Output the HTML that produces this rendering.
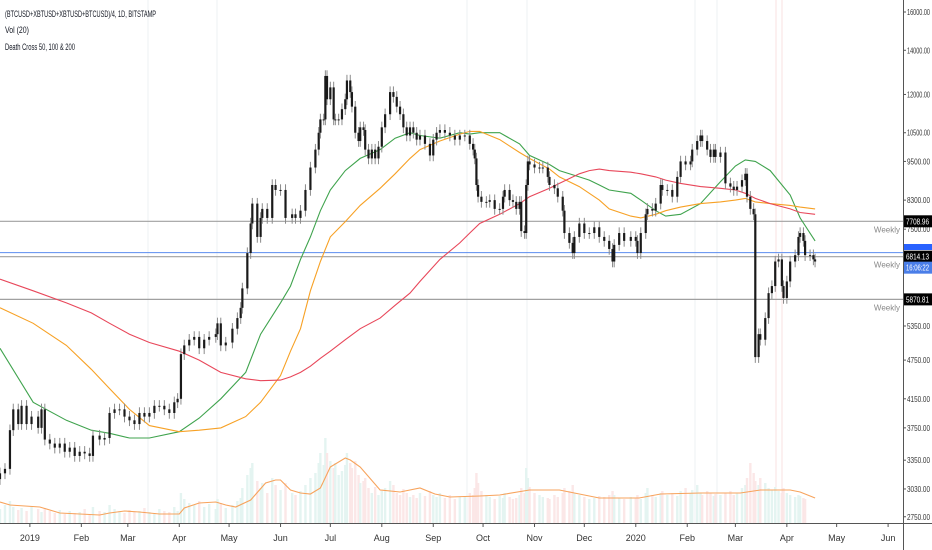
<!DOCTYPE html>
<html><head><meta charset="utf-8">
<style>
html,body{margin:0;padding:0;background:#fff;}
svg{display:block;font-family:"Liberation Sans",sans-serif;}
</style></head>
<body>
<svg id="chart" width="932" height="550">
  <g id="grid"></g>
  <g id="vol"></g>
  <g id="hlines"></g>
  <g id="mas"></g>
  <g id="candles"></g>
  <g id="axes"></g>
  <text x="5" y="17" font-size="9" fill="#131722" textLength="151" lengthAdjust="spacingAndGlyphs">(BTCUSD+XBTUSD+XBTUSD+BTCUSD)/4, 1D, BITSTAMP</text>
  <text x="5" y="33" font-size="9" fill="#131722" textLength="24" lengthAdjust="spacingAndGlyphs">Vol (20)</text>
  <text x="5" y="50" font-size="9" fill="#131722" textLength="70" lengthAdjust="spacingAndGlyphs">Death Cross 50, 100 &amp; 200</text>
</svg>
<script>
// ---- data (days since 2018-12-14) ----
const candleDays=[0,3,6,8,11,13,16,19,23,25,27,30,33,36,39,42,45,48,51,54,56,60,63,66,69,72,75,78,81,84,87,90,93,96,99,102,105,107,109,111,114,117,120,123,126,130,131,133,136,140,143,145,146,149,151,152,155,157,158,161,164,166,169,172,176,178,181,184,187,190,192,193,195,196,197,199,201,202,204,206,208,209,211,212,214,216,217,219,220,222,224,226,228,230,232,235,237,239,241,243,245,247,249,251,253,256,259,261,263,265,268,271,274,277,280,283,285,286,287,288,290,293,295,298,301,303,304,307,309,311,313,314,316,317,318,319,322,325,327,330,331,334,336,339,340,343,345,346,349,352,355,358,361,364,367,369,370,373,376,380,383,384,386,389,390,393,395,398,399,402,405,408,410,413,416,417,420,422,423,426,428,430,431,434,437,440,442,444,447,449,450,452,454,455,457,458,461,463,465,467,469,471,472,474,476,479,481,482,484,485,488,490,491];
const closes=[3200,3250,3720,4000,3800,4050,3800,3900,3750,4000,3600,3550,3500,3550,3450,3500,3400,3450,3430,3400,3650,3600,3620,3950,4000,4000,3900,3850,3800,3950,3900,3950,4050,4050,4000,3950,4100,4150,4850,5000,5100,5150,4950,5100,5150,5200,5400,5000,5050,5300,5500,5700,6100,6900,7650,8200,7300,7800,8050,7800,8750,8600,8600,7800,7900,7800,8000,8600,9300,9900,10500,11000,11000,12800,11800,12300,11000,11000,11000,11400,11800,12600,12100,11500,10500,10200,10700,10600,9900,9600,9900,9600,10000,10700,11200,12100,11900,11500,11200,10700,10400,10700,10500,10250,10400,10100,9700,10250,10500,10600,10500,10400,10250,10400,10400,10100,9900,9600,8750,8400,8250,8250,8300,8050,8050,8400,8600,8300,8250,8050,8250,7450,7400,8750,9500,9400,9300,9300,9300,9000,8750,8650,8400,8000,7400,7150,6900,7300,7650,7400,7400,7550,7300,7200,7000,6700,7100,7400,7200,7300,7200,6900,7400,7900,8050,8000,8200,8750,8600,8600,8400,9000,9500,9400,9500,9900,10200,10400,10200,9900,9650,9900,9650,9800,8800,8700,8600,8700,8900,9100,8400,8050,7900,4800,5200,5100,5500,6000,6150,6700,6750,6150,5900,6250,6700,6850,7300,7400,7200,6850,6850,6750,6700];
const volumes=[14,18,22,16,13,15,12,17,14,11,15,12,10,13,9,12,10,11,14,9,16,12,11,18,14,12,10,13,11,12,15,11,10,14,12,11,16,12,30,24,20,18,22,16,19,14,24,20,15,18,22,25,35,48,55,60,42,35,40,30,45,38,33,40,30,28,32,38,45,50,60,70,58,85,70,62,55,60,48,52,58,70,60,55,62,48,40,42,45,35,30,36,28,32,35,42,38,30,28,34,30,26,28,25,30,27,32,28,26,30,25,28,24,26,27,30,28,35,50,40,32,28,26,24,27,25,30,26,24,25,28,35,30,55,45,36,30,28,26,25,24,28,26,30,35,32,38,30,28,26,24,25,27,26,28,32,28,25,24,26,25,28,24,30,35,28,26,30,32,28,30,27,32,35,30,33,38,30,28,32,30,27,29,28,30,32,28,30,35,38,45,60,50,42,38,45,40,35,33,36,32,30,35,30,28,26,28,27,25,24];
const volMaDays=[0,6,24,36,48,60,66,75,84,96,108,111,120,130,136,142,151,160,166,169,175,181,187,193,199,208,211,217,229,241,253,262,271,289,301,319,337,361,385,398,422,446,458,476,482,491];
const volMa=[21,18,16,10,9,8,10,12,11,9,9,15,20,21,18,16,23,40,43,43,33,30,29,35,56,65,63,56,33,31,35,29,26,27,28,33,33,25,25,29,30,30,33,33,31,25];
const maDays=[0,20,40,55,66,78,90,108,120,133,148,157,169,175,181,187,193,199,208,217,229,238,247,253,265,277,283,289,301,313,319,331,337,349,355,361,367,380,386,395,401,410,422,434,443,449,455,464,476,482,491];
const ma50=[4950,4100,3850,3720,3680,3620,3620,3700,3880,4150,4550,5200,5800,6150,6750,7300,8000,8600,9200,9600,9900,10300,10500,10400,10300,10500,10450,10500,10500,10100,9700,9400,9200,9000,8900,8750,8600,8500,8300,8000,7850,7900,8200,8850,9350,9550,9500,9200,8450,7800,7200];
const ma100=[5700,5400,5000,4600,4300,4000,3780,3700,3720,3750,3900,4100,4500,4900,5300,6050,6700,7300,7700,8150,8650,9100,9600,9900,10200,10450,10550,10550,10250,9800,9600,9250,9000,8700,8500,8300,8050,7850,7800,7900,8000,8100,8200,8250,8300,8350,8250,8200,8150,8100,8050];
const ma200=[6300,6050,5800,5600,5400,5200,5050,4900,4750,4550,4450,4420,4430,4480,4550,4650,4780,4900,5100,5300,5500,5750,6000,6250,6750,7150,7400,7650,7900,8200,8400,8650,8800,9100,9200,9250,9200,9150,9100,9000,8900,8800,8700,8650,8600,8500,8350,8200,8050,7950,7900];
const priceTicks=[16000,14000,12000,10500,9500,8300,7500,5350,4750,4150,3750,3350,3030,2750];
const monthLabels=["2019","Feb","Mar","Apr","May","Jun","Jul","Aug","Sep","Oct","Nov","Dec","2020","Feb","Mar","Apr","May","Jun"];
const monthDays=[18,49,77,108,138,169,199,230,261,291,322,352,383,414,443,474,504,535];
const levels=[7708.96,6814.13,5870.81];
const levelNames=["weekly-level-7708","weekly-level-6814","weekly-level-5870"];

// ---- scales ----
const PX_PER_DAY=1.66, TOP=12, LOGTOP=Math.log10(16000), PX_PER_DEC=660, VOL_BASE=523;
const xs=d=>d*PX_PER_DAY;
const ys=p=>TOP+(LOGTOP-Math.log10(p))*PX_PER_DEC;
const yv=v=>VOL_BASE-v*1.0;
const NS="http://www.w3.org/2000/svg";
function mk(tag,parent,attrs){const e=document.createElementNS(NS,tag);for(const k in attrs)e.setAttribute(k,attrs[k]);parent.appendChild(e);return e;}
const G=id=>document.getElementById(id);

[148,217,467,527,695,717].forEach(x=>{
  const l=mk('line',G('grid'),{x1:x,x2:x,y1:0,y2:523,stroke:'#eef0f3','stroke-width':1});
  
  
});
[776,782].forEach(x=>{
  const l=mk('line',G('grid'),{x1:x,x2:x,y1:0,y2:523,stroke:'#f9e2e2','stroke-width':1});
  
  
});

// volume bars
candleDays.forEach((d,i)=>{
  const up=i===0||closes[i]>=closes[i-1];
  const r=mk('rect',G('vol'),{x:xs(d)-1.2,y:yv(volumes[i]),width:2.4,height:VOL_BASE-yv(volumes[i]),fill:up?'#e4f4f1':'#fbe7e7'});
  
  
});
let vp=volMaDays.map((d,i)=>`${i?'L':'M'}${xs(d).toFixed(1)},${yv(volMa[i]).toFixed(1)}`).join('');
const vl=mk('path',G('vol'),{d:vp,fill:'none',stroke:'#f7a35c','stroke-width':1.1});



// horizontal levels
levels.forEach((p,i)=>{
  const l=mk('line',G('hlines'),{x1:0,x2:903,y1:ys(p),y2:ys(p),stroke:'#a0a0a0','stroke-width':1.2});
  
  
  const t=mk('text',G('hlines'),{x:900,y:ys(p)+11,'font-size':8,fill:'#888','text-anchor':'end'});
  t.textContent='Weekly';
  
  
});
const bl=mk('line',G('hlines'),{x1:0,x2:903,y1:ys(levels[1])-4,y2:ys(levels[1])-4,stroke:'#5b8def','stroke-width':1});



// moving averages
[[ma50,'#3fa34d','ma-50-line'],[ma100,'#f7a125','ma-100-line'],[ma200,'#e8475a','ma-200-line']].forEach(([arr,c,n])=>{
  const d=maDays.map((dd,i)=>`${i?'L':'M'}${xs(dd).toFixed(1)},${ys(arr[i]).toFixed(1)}`).join('');
  const p=mk('path',G('mas'),{d:d,fill:'none',stroke:c,'stroke-width':1.1});
  
  
});

// candles
candleDays.forEach((d,i)=>{
  const o=i?closes[i-1]:closes[0]*0.98, c=closes[i];
  const hi=Math.max(o,c)*1.02, lo=Math.min(o,c)*0.98;
  const x=xs(d);
  const w=mk('line',G('candles'),{x1:x,x2:x,y1:ys(hi),y2:ys(lo),stroke:'#8a8a8a','stroke-width':1});
  
  
  const y1=ys(Math.max(o,c)), y2=ys(Math.min(o,c));
  const b=mk('rect',G('candles'),{x:x-1.1,y:y1,width:2.2,height:Math.max(1,y2-y1),fill:'#1a1a1a'});
  
  
});

// axes
const ax=G('axes');
let a=mk('line',ax,{x1:0,x2:932,y1:523.5,y2:523.5,stroke:'#555','stroke-width':1});


a=mk('line',ax,{x1:903.5,x2:903.5,y1:0,y2:550,stroke:'#555','stroke-width':1});


monthLabels.forEach((m,i)=>{
  const x=xs(monthDays[i]);
  const tk=mk('line',ax,{x1:x,x2:x,y1:523,y2:527,stroke:'#555'});
  
  
  const t=mk('text',ax,{x:x,y:541,'font-size':9,fill:'#333','text-anchor':'middle'});
  t.textContent=m;
  
  
});
priceTicks.forEach(p=>{
  const y=ys(p);
  const tk=mk('line',ax,{x1:903,x2:906,y1:y,y2:y,stroke:'#555'});
  
  
  const t=mk('text',ax,{x:907,y:y+3,'font-size':8,fill:'#333',textLength:23,lengthAdjust:'spacingAndGlyphs'});
  t.textContent=p.toFixed(2);
  
  
});
function tag(y,txt,bg,name){
  const r=mk('rect',ax,{x:904,y:y-6,width:28,height:12,fill:bg});
  
  
  const t=mk('text',ax,{x:906,y:y+3,'font-size':8,fill:'#fff',textLength:23,lengthAdjust:'spacingAndGlyphs'});
  t.textContent=txt;
  
  
}
const strip=mk('rect',ax,{x:904,y:244,width:28,height:6,fill:'#2962ff'});


tag(ys(levels[0]),'7708.96','#000','level-tag-7708');
tag(ys(levels[1]),'6814.13','#000','level-tag-6814');
tag(ys(levels[1])+11,'16:06:22','#4a7ee8','countdown-tag');
tag(ys(levels[2]),'5870.81','#000','level-tag-5870');
</script>
</body></html>
